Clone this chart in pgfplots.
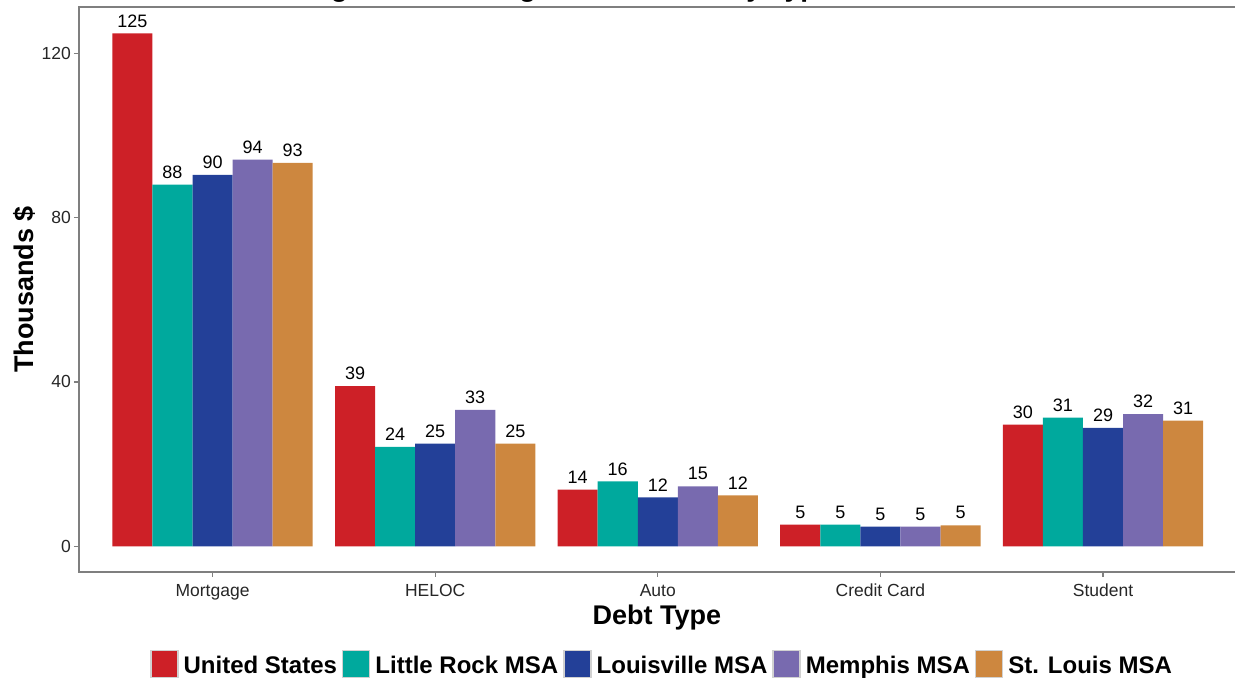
\documentclass[border=0pt]{standalone}
\usepackage{fontspec}
\setmainfont{Liberation Sans}
\usepackage{pgfplots}
\pgfplotsset{compat=1.18}
\definecolor{cUS}{RGB}{205,32,39}
\definecolor{cLR}{RGB}{0,169,157}
\definecolor{cLV}{RGB}{35,64,152}
\definecolor{cME}{RGB}{120,106,175}
\definecolor{cSL}{RGB}{205,135,63}
\definecolor{frame}{RGB}{127,127,127}
\begin{document}
\begin{tikzpicture}
\useasboundingbox (0pt,0pt) rectangle (1235pt,682pt);
\node[anchor=base west, inner sep=0pt, font=\bfseries\fontsize{28}{30}\selectfont] at (254pt,685pt) {Average Outstanding Debt Balance by Type};
\begin{axis}[
  at={(79pt,110pt)}, anchor=south west,
  width=1157.6pt, height=565pt, scale only axis,
  /pgf/number format/assume math mode=true,
  ybar=0pt, bar width=0.18,
  xmin=-0.6, xmax=4.6, ymin=-6.25, ymax=131.25,
  xtick={0,1,2,3,4},
  xticklabels={Mortgage,HELOC,Auto,Credit Card,Student},
  ytick={0,40,80,120},
  tick pos=left, tick align=outside, major tick length=5pt,
  tick style={draw=frame, line width=1.2pt},
  axis line style={draw=frame, line width=1.2pt},
  ticklabel style={font=\fontsize{17.5}{20}\selectfont, text=black!85},
  yticklabel style={inner sep=0pt, xshift=-3pt},
  xticklabel style={inner sep=0pt, yshift=-7pt},
  xlabel={Debt Type},
  ylabel={Thousands \$},
  xlabel style={at={(axis description cs:0.4993,-0.0925)}, anchor=base, inner sep=0pt, font=\bfseries\fontsize{27}{29}\selectfont},
  ylabel style={at={(axis description cs:-0.0397,0.5)}, anchor=base, inner sep=0pt, font=\bfseries\fontsize{27}{29}\selectfont},
  nodes near coords,
  nodes near coords style={font=\fontsize{18}{20}\selectfont, text=black, inner sep=0pt, anchor=south, yshift=6pt, /pgf/number format/.cd, fixed, precision=0},
  legend columns=5,
  legend style={at={(axis description cs:0.5028,-0.1625)}, anchor=center, draw=none, fill=none,
    font=\bfseries\fontsize{24}{26}\selectfont, column sep=5pt, nodes={inner sep=0pt}},
  legend image code/.code={\draw[#1, draw=black!18, line width=1.5pt] (0pt,-11.5pt) rectangle (27pt,15.5pt);},
]
\addplot[fill=cUS, draw=none] coordinates {(0,124.8) (1,39.0) (2,13.8) (3,5.3) (4,29.6)};
\addplot[fill=cLR, draw=none] coordinates {(0,88.0) (1,24.2) (2,15.8) (3,5.3) (4,31.3)};
\addplot[fill=cLV, draw=none] coordinates {(0,90.4) (1,25.0) (2,11.9) (3,4.8) (4,28.8)};
\addplot[fill=cME, draw=none] coordinates {(0,94.1) (1,33.2) (2,14.6) (3,4.8) (4,32.2)};
\addplot[fill=cSL, draw=none] coordinates {(0,93.3) (1,25.0) (2,12.4) (3,5.1) (4,30.6)};
\legend{United States,Little Rock MSA,Louisville MSA,Memphis MSA,St. Louis MSA}
\end{axis}
\end{tikzpicture}
\end{document}
